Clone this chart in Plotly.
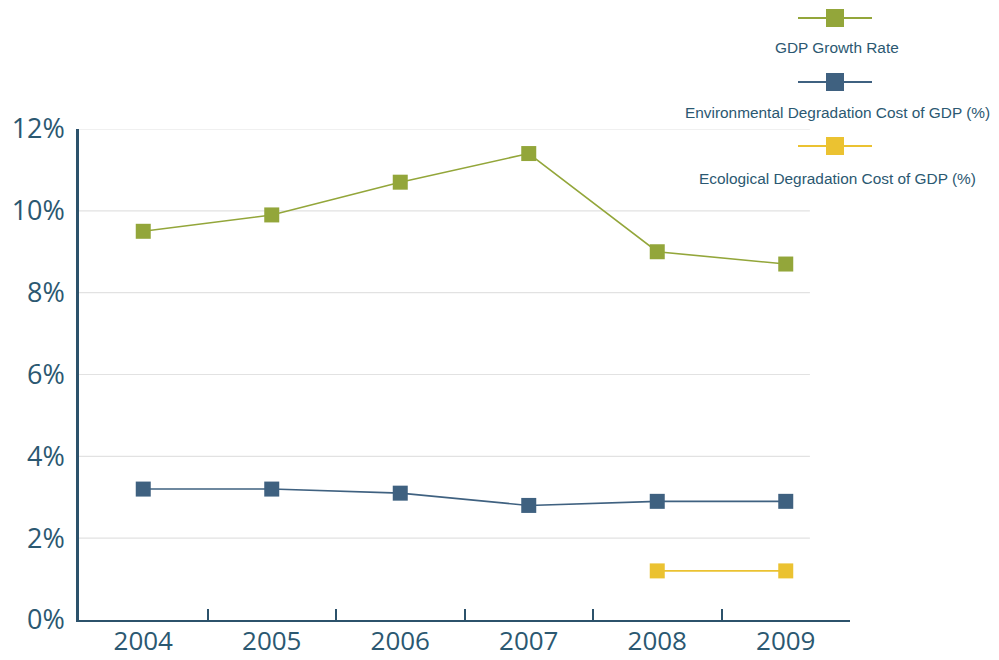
import plotly.graph_objects as go

years = ["2004", "2005", "2006", "2007", "2008", "2009"]
gdp_growth = [9.5, 9.9, 10.7, 11.4, 9.0, 8.7]
env_cost = [3.2, 3.2, 3.1, 2.8, 2.9, 2.9]
eco_cost = [None, None, None, None, 1.2, 1.2]
series_names = ["GDP Growth Rate",
                "Environmental Degradation Cost of GDP (%)",
                "Ecological Degradation Cost of GDP (%)"]
colors = ["#93a63a", "#3f6180", "#ebc231"]
y_ticks = [0, 2, 4, 6, 8, 10, 12]

text_color = "#2b5871"
axis_color = "#2c526b"

fig = go.Figure()
for name, vals, col in zip(series_names, [gdp_growth, env_cost, eco_cost], colors):
    fig.add_trace(go.Scatter(
        x=years, y=vals, name=name, mode="lines+markers",
        line=dict(color=col, width=1.6),
        marker=dict(symbol="square", size=15, color=col),
        showlegend=False, connectgaps=False,
    ))

# gridlines (stop short of the right end like the reference)
shapes = []
for v in y_ticks[1:]:
    shapes.append(dict(type="line", xref="paper", yref="y", x0=0, x1=0.948,
                       y0=v, y1=v, line=dict(color="#e2e2e2", width=1.2),
                       layer="below"))

# custom legend: symbol above text, centered
L, W, T, H = 79, 771, 129, 491
def px(x):
    return (x - L) / W
def py(y):
    return (T + H - y) / H

annotations = []
sym_y = [18, 82, 146]
txt_y = [47, 112, 179]
cx = 835
for name, col, sy, ty in zip(series_names, colors, sym_y, txt_y):
    shapes.append(dict(type="line", xref="paper", yref="paper",
                       x0=px(798), x1=px(872), y0=py(sy), y1=py(sy),
                       line=dict(color=col, width=2)))
    shapes.append(dict(type="rect", xref="paper", yref="paper",
                       x0=px(cx - 9), x1=px(cx + 9), y0=py(sy - 9), y1=py(sy + 9),
                       line=dict(width=0), fillcolor=col))
    annotations.append(dict(xref="paper", yref="paper", x=px(cx + 2), y=py(ty),
                            text=name, showarrow=False, xanchor="center",
                            yanchor="middle",
                            font=dict(family="Liberation Sans, Arial", size=15.4,
                                      color=text_color)))

fig.update_layout(
    width=999, height=660,
    margin=dict(l=79, r=149, t=129, b=40),
    paper_bgcolor="white", plot_bgcolor="white",
    font=dict(family="Open Sans", color=text_color),
    shapes=shapes, annotations=annotations,
    xaxis=dict(type="category", range=[-0.5, 5.5], showgrid=False,
               showline=True, linecolor=axis_color, linewidth=2,
               ticks="inside", tickson="boundaries", ticklen=11,
               tickcolor=axis_color, tickwidth=2, automargin=False,
               ticklabelstandoff=-3,
               tickfont=dict(size=26, color=text_color), zeroline=False),
    yaxis=dict(range=[0, 12], tickvals=y_ticks,
               ticktext=[f"{v}%" for v in y_ticks], showgrid=False,
               showline=True, linecolor=axis_color, linewidth=2.5,
               ticks="", zeroline=False, ticklabelstandoff=6, automargin=False,
               tickfont=dict(size=27, color=text_color)),
)

fig.write_html("out.html", config={"displayModeBar": False},
               post_script="document.body.style.margin='0';")
